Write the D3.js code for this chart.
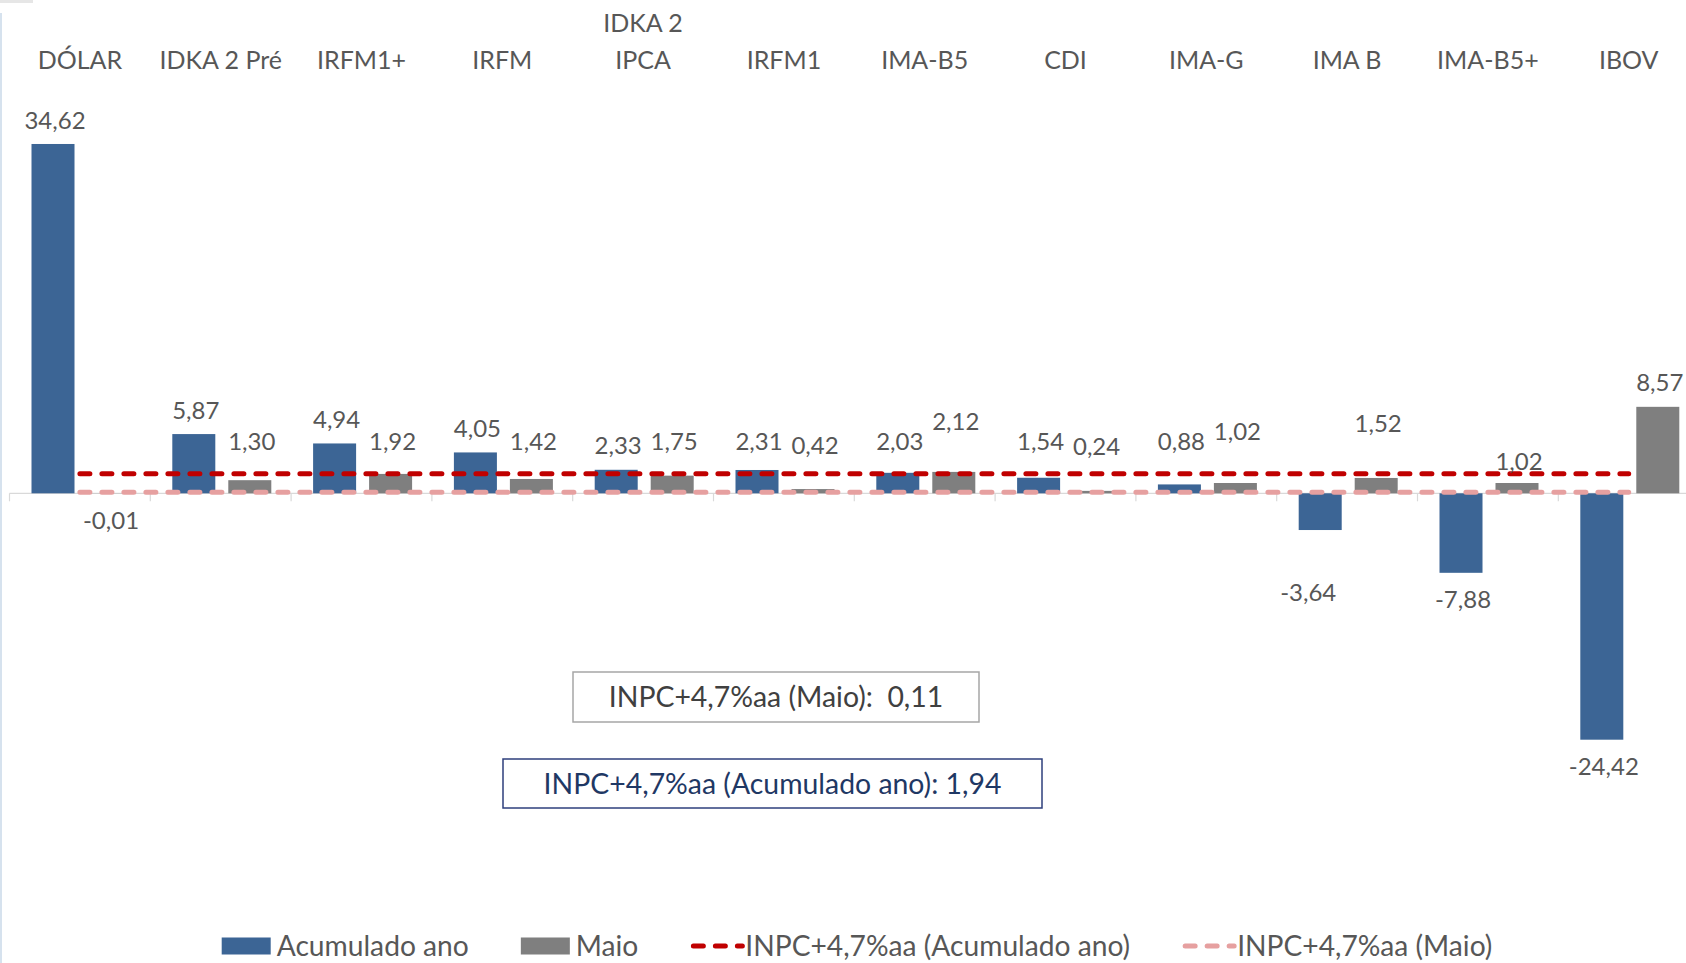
<!DOCTYPE html>
<html><head><meta charset="utf-8">
<script src="https://cdn.jsdelivr.net/npm/d3@7"></script>
<style>
body{margin:0;background:#fff}
svg{display:block}
text{font-family:Lato,"Open Sans",sans-serif;white-space:pre}
</style>
</head><body>
<svg id="chart" width="1686" height="963"></svg>
<script>
// ---------------- data ----------------
const categories = ["DÓLAR","IDKA 2 Pré","IRFM1+","IRFM","IDKA 2 IPCA","IRFM1","IMA-B5","CDI","IMA-G","IMA B","IMA-B5+","IBOV"];
const tickLabels = ["DÓLAR","IDKA 2 Pré","IRFM1+","IRFM","IDKA 2\nIPCA","IRFM1","IMA-B5","CDI","IMA-G","IMA B","IMA-B5+","IBOV"];
const acumuladoAno = [34.62,5.87,4.94,4.05,2.33,2.31,2.03,1.54,0.88,-3.64,-7.88,-24.42];
const maio = [-0.01,1.30,1.92,1.42,1.75,0.42,2.12,0.24,1.02,1.52,1.02,8.57];
const inpcAcumulado = 1.94;
const inpcMaio = 0.11;
const seriesNames = ["Acumulado ano","Maio","INPC+4,7%aa (Acumulado ano)","INPC+4,7%aa (Maio)"];
const boxTexts = ["INPC+4,7%aa (Maio):  0,11","INPC+4,7%aa (Acumulado ano): 1,94"];

// ---------------- drawing ----------------
const W = 1686, H = 963;
const svg = d3.select("#chart");
const BLUE = "#3c6595", GRAY = "#7f7f7f", RED = "#c00000", PINK = "#e6a0a0", TXT = "#575757";
const fmt = d3.formatLocale({decimal:",", thousands:".", grouping:[3], currency:["",""], minus:"-"}).format(".2f");

const x0 = d3.scaleBand().domain(categories).range([9.5, 9.5 + 12 * 140.8]).padding(0);
const x1 = d3.scaleBand().domain(["acum","maio"]).range([22, 121]).paddingInner(0.232);
const y = d3.scaleLinear().domain([-25, 35]).range([745.55, 140.15]);

// decorative frame bits
svg.append("rect").attr("x",0).attr("y",0).attr("width",33).attr("height",3).attr("fill","#e6e6e6");
svg.append("line").attr("x1",1).attr("x2",1).attr("y1",13).attr("y2",H).attr("stroke","#d6e2ee").attr("stroke-width",2);

// category axis (at zero)
const axisG = svg.append("g");
axisG.append("line").attr("x1", x0.range()[0]).attr("x2", W).attr("y1", y(0)).attr("y2", y(0))
  .attr("stroke","#d9d9d9").attr("stroke-width",1.2);
axisG.selectAll("line.tick").data(categories).join("line").attr("class","tick")
  .attr("x1", d => x0(d)).attr("x2", d => x0(d)).attr("y1", y(0)).attr("y2", y(0) + 8)
  .attr("stroke","#d9d9d9").attr("stroke-width",1.2);

// category labels at top
const catG = svg.append("g").attr("fill", TXT).attr("font-size", 25).attr("text-anchor","middle");
categories.forEach((c, i) => {
  const lines = tickLabels[i].split("\n");
  const t = catG.append("text").attr("x", x0(c) + x0.bandwidth() / 2);
  lines.forEach((ln, j) => {
    t.append("tspan").attr("x", x0(c) + x0.bandwidth() / 2)
      .attr("y", 69 - (lines.length - 1 - j) * 37).text(ln);
  });
});

// bars
const rows = categories.map((c, i) => ({c, i, acum: acumuladoAno[i], maio: maio[i]}));
const barG = svg.append("g");
rows.forEach(r => {
  [["acum", r.acum, BLUE], ["maio", r.maio, GRAY]].forEach(([k, v, col]) => {
    barG.append("rect")
      .attr("x", x0(r.c) + x1(k)).attr("width", x1.bandwidth())
      .attr("y", Math.min(y(v), y(0))).attr("height", Math.abs(y(v) - y(0)))
      .attr("fill", col);
  });
});

// INPC dashed reference lines across category centres
const lineGen = d3.line().x(d => x0(d) + x0.bandwidth() / 2);
[[inpcMaio, PINK], [inpcAcumulado, RED]].forEach(([v, col]) => {
  svg.append("path").datum(categories)
    .attr("d", lineGen.y(() => y(v)))
    .attr("fill","none").attr("stroke", col).attr("stroke-width", 5)
    .attr("stroke-dasharray","10,12").attr("stroke-linecap","round");
});

// data labels (Excel-style: above positive bars, kept above the INPC line; below negative bars)
const labelNudge = {"acum-4":[0,4], "acum-9":[-14,35], "maio-5":[0,4], "maio-6":[0,-20],
  "maio-7":[0,5], "maio-8":[0,-10], "maio-9":[0,-18], "maio-10":[0,20]};
const labG = svg.append("g").attr("fill", TXT).attr("font-size", 24).attr("text-anchor","middle");
rows.forEach(r => {
  [["acum", r.acum], ["maio", r.maio]].forEach(([k, v]) => {
    let cy = v >= 0 ? Math.min(y(v) - 24, y(inpcAcumulado) - 32) : y(v) + 27;
    let cx = x0(r.c) + x1(k) + x1.bandwidth() / 2 + 2;
    const n = labelNudge[k + "-" + r.i];
    if (n) { cx += n[0]; cy += n[1]; }
    labG.append("text").attr("x", cx).attr("y", cy).attr("dy","0.36em").text(fmt(v));
  });
});

// text boxes
const boxes = [
  {text: boxTexts[0], x: 573, y: 672, w: 406, h: 50, stroke: "#a6a6a6", fill: "#404040"},
  {text: boxTexts[1], x: 503, y: 759, w: 539, h: 49, stroke: "#2e3f7c", fill: "#1f3864"}
];
boxes.forEach(b => {
  svg.append("rect").attr("x", b.x).attr("y", b.y).attr("width", b.w).attr("height", b.h)
    .attr("fill","#fff").attr("stroke", b.stroke).attr("stroke-width", 1.5);
  svg.append("text").attr("x", b.x + b.w / 2).attr("y", b.y + b.h / 2).attr("dy","0.36em")
    .attr("text-anchor","middle").attr("font-size", 28.4).attr("fill", b.fill).text(b.text);
});

// legend
const legG = svg.append("g").attr("font-size", 28.2).attr("fill", TXT);
const legY = 946;
const items = [
  {name: seriesNames[0], type: "rect", col: BLUE},
  {name: seriesNames[1], type: "rect", col: GRAY},
  {name: seriesNames[2], type: "line", col: RED},
  {name: seriesNames[3], type: "line", col: PINK}
];
const parts = [];
items.forEach((it, i) => {
  const g = legG.append("g");
  if (it.type === "rect") {
    g.append("rect").attr("x", 0).attr("y", legY - 8.5).attr("width", 49).attr("height", 17).attr("fill", it.col);
  } else {
    g.append("line").attr("x1", 3).attr("x2", 52).attr("y1", legY).attr("y2", legY)
      .attr("stroke", it.col).attr("stroke-width", 5).attr("stroke-dasharray","10,12").attr("stroke-linecap","round");
  }
  const t = g.append("text").attr("x", 55).attr("y", legY).attr("dy","0.36em").text(it.name);
  const w = 55 + t.node().getComputedTextLength();
  parts.push({g, w});
});
const gap = 52;
const total = d3.sum(parts, p => p.w) + gap * (parts.length - 1);
let lx = 857 - total / 2;
parts.forEach(p => { p.g.attr("transform", `translate(${lx},0)`); lx += p.w + gap; });
</script>
</body></html>
